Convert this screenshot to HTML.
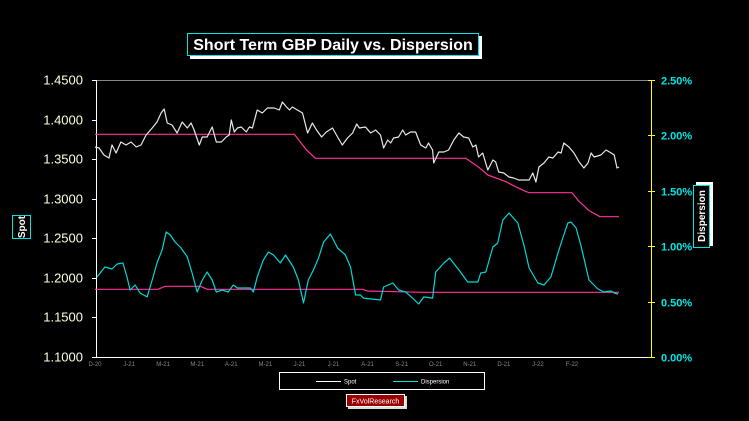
<!DOCTYPE html>
<html><head><meta charset="utf-8"><style>
body{margin:0;background:#000;width:749px;height:421px;overflow:hidden;font-family:"Liberation Sans",Arial,sans-serif}
</style></head><body>
<svg id="chart" width="749" height="421" xmlns="http://www.w3.org/2000/svg" style="position:absolute;left:0;top:0">
<rect width="749" height="421" fill="#000"/>
<g>
<rect x="190" y="36" width="292" height="23" fill="#fff"/>
<rect x="187.5" y="33.5" width="291" height="22" fill="#000" stroke="#00e5e5"/>
<text x="333" y="50" fill="#fff" font-size="16" font-weight="bold" text-anchor="middle">Short Term GBP Daily vs. Dispersion</text>
</g>
<g>
<rect x="12.5" y="215.5" width="18" height="23" fill="#000" stroke="#00e5e5"/>
<text transform="translate(25,227) rotate(-90)" fill="#fff" font-size="10" font-weight="bold" text-anchor="middle">Spot</text>
</g>
<g>
<rect x="696" y="182" width="17" height="64" fill="#fff"/>
<rect x="693.5" y="185.5" width="16" height="62" fill="#000" stroke="#00e5e5"/>
<text transform="translate(705,216) rotate(-90)" fill="#fff" font-size="10" font-weight="bold" text-anchor="middle">Dispersion</text>
</g>
<g id="axes"></g>
<g id="series"></g>
<g>
<rect x="279.5" y="372.5" width="205" height="17" fill="#000" stroke="#fff"/>
<line x1="316" y1="381.5" x2="341" y2="381.5" stroke="#fff"/>
<text x="344" y="383.5" fill="#fff" font-size="6">Spot</text>
<line x1="393" y1="381.5" x2="418" y2="381.5" stroke="#00e5e5"/>
<text x="421" y="383.5" fill="#fff" font-size="6">Dispersion</text>
</g>
<g>
<rect x="348" y="396" width="59" height="13" fill="#ddd"/>
<rect x="346.5" y="394.5" width="58" height="12" fill="#990000" stroke="#fff"/>
<text x="375.5" y="403.5" fill="#fff" font-size="7" text-anchor="middle">FxVolResearch</text>
</g>
</svg>
<script>
const xLabels=["D-20","J-21","M-21","M-21","A-21","M-21","J-21","J-21","A-21","S-21","O-21","N-21","D-21","J-22","F-22"];
const leftTicks=[1.45,1.40,1.35,1.30,1.25,1.20,1.15,1.10];
const rightTicks=[0,0.5,1.0,1.5,2.0,2.5];
const spotT=[0,0.12,0.26,0.41,0.50,0.62,0.76,0.91,1.06,1.21,1.35,1.50,1.68,1.82,1.94,2.03,2.12,2.26,2.41,2.56,2.71,2.82,2.91,3.06,3.15,3.29,3.44,3.56,3.71,3.85,3.94,4.00,4.09,4.18,4.29,4.44,4.53,4.62,4.76,4.91,5.06,5.26,5.41,5.50,5.62,5.71,5.79,5.94,6.09,6.24,6.38,6.50,6.65,6.79,6.97,7.12,7.26,7.41,7.56,7.68,7.76,7.94,8.09,8.24,8.38,8.47,8.59,8.68,8.76,8.91,9.03,9.12,9.26,9.41,9.56,9.71,9.79,9.91,9.94,10.09,10.24,10.38,10.53,10.68,10.82,10.97,11.09,11.18,11.26,11.38,11.53,11.68,11.76,11.85,12.00,12.15,12.29,12.44,12.59,12.74,12.85,12.94,13.03,13.18,13.32,13.44,13.59,13.68,13.76,13.91,14.06,14.21,14.35,14.47,14.56,14.65,14.85,15.00,15.15,15.24,15.32,15.38];
const spotV=[1.3653,1.3641,1.3552,1.3515,1.3679,1.3578,1.3717,1.3679,1.3717,1.3653,1.3679,1.3805,1.3894,1.3969,1.4083,1.4134,1.3957,1.3931,1.3830,1.3969,1.3894,1.3957,1.3868,1.3679,1.3780,1.3780,1.3906,1.3717,1.3717,1.3780,1.3805,1.3995,1.3843,1.3894,1.3906,1.3843,1.3906,1.3894,1.4121,1.4083,1.4146,1.4146,1.4121,1.4222,1.4159,1.4121,1.4159,1.4121,1.4083,1.3830,1.3957,1.3868,1.3780,1.3843,1.3894,1.3780,1.3679,1.3767,1.3830,1.3944,1.3894,1.3906,1.3830,1.3868,1.3805,1.3641,1.3742,1.3704,1.3767,1.3780,1.3868,1.3805,1.3843,1.3843,1.3679,1.3641,1.3704,1.3616,1.3451,1.3590,1.3590,1.3616,1.3742,1.3830,1.3780,1.3767,1.3653,1.3679,1.3527,1.3578,1.3363,1.3489,1.3464,1.3338,1.3325,1.3274,1.3262,1.3237,1.3237,1.3237,1.3325,1.3211,1.3401,1.3451,1.3527,1.3515,1.3590,1.3578,1.3704,1.3653,1.3578,1.3464,1.3388,1.3451,1.3578,1.3527,1.3552,1.3616,1.3578,1.3552,1.3388,1.3401];
const meanSpotT=[0,5.85,6.2,6.47,10.88,11.26,11.53,12.06,12.35,12.65,12.74,14.0,14.2,14.5,14.82,15.38];
const meanSpotV=[1.3814,1.3814,1.362,1.3511,1.3511,1.34,1.33,1.3215,1.315,1.309,1.3076,1.3076,1.297,1.285,1.2773,1.2773];
const dispT=[0.06,0.29,0.50,0.65,0.82,0.94,1.03,1.18,1.32,1.53,1.68,1.82,1.97,2.09,2.21,2.35,2.50,2.71,2.85,3.00,3.15,3.29,3.44,3.56,3.74,3.91,4.06,4.18,4.56,4.65,4.76,4.94,5.09,5.24,5.44,5.59,5.82,5.97,6.12,6.26,6.41,6.56,6.71,6.91,7.12,7.35,7.50,7.65,7.79,7.88,8.38,8.47,8.74,8.91,9.12,9.32,9.50,9.65,9.91,10.00,10.24,10.41,10.68,10.94,11.24,11.32,11.47,11.68,11.82,11.97,12.15,12.41,12.59,12.74,13.00,13.18,13.38,13.59,13.74,13.88,13.97,14.12,14.26,14.50,14.76,14.94,15.15,15.24,15.35];
const dispV=[0.722,0.812,0.794,0.839,0.848,0.722,0.605,0.650,0.578,0.542,0.695,0.848,0.966,1.128,1.101,1.038,0.993,0.903,0.758,0.587,0.695,0.767,0.695,0.587,0.605,0.587,0.650,0.623,0.623,0.587,0.722,0.875,0.948,0.921,0.848,0.921,0.812,0.695,0.487,0.695,0.785,0.893,1.038,1.110,0.984,0.921,0.812,0.560,0.560,0.532,0.514,0.632,0.668,0.605,0.587,0.532,0.478,0.542,0.532,0.767,0.848,0.893,0.785,0.677,0.677,0.758,0.767,0.993,1.029,1.236,1.300,1.209,1.011,0.803,0.668,0.650,0.722,0.939,1.083,1.209,1.218,1.164,1.011,0.695,0.614,0.587,0.596,0.578,0.569];
const meanDispT=[0,1.85,2.06,3.09,3.3,7.85,8.0,9.6,15.38];
const meanDispV=[0.611,0.611,0.638,0.638,0.611,0.611,0.596,0.584,0.584];

const NS="http://www.w3.org/2000/svg";
const L=96.5,R=651.5,T=80,B=357;
const xS=t=>95+t*34.07;
const yL=v=>T+(1.45-v)/0.35*(B-T);
const yR=v=>B-v/2.5*(B-T);
function mk(tag,attrs,parent){const e=document.createElementNS(NS,tag);for(const k in attrs)e.setAttribute(k,attrs[k]);parent.appendChild(e);return e;}
const axes=document.getElementById('axes');
let g=mk('line',{x1:L,y1:T+0.5,x2:R,y2:T+0.5,stroke:'#888'},axes);


g=mk('line',{x1:L,y1:T,x2:L,y2:B,stroke:'#fff'},axes);


g=mk('line',{x1:R,y1:T,x2:R,y2:B,stroke:'#ffff00'},axes);


g=mk('line',{x1:92,y1:B+0.5,x2:R,y2:B+0.5,stroke:'#fff'},axes);


leftTicks.forEach(v=>{const y=Math.round(yL(v))+0.5;
 mk('line',{x1:92,y1:y,x2:L,y2:y,stroke:'#fff'},axes);
 const t=mk('text',{x:83,y:y+4,fill:'#ffffe0','font-size':13,'text-anchor':'end'},axes);t.textContent=v.toFixed(4);
 
 
});
rightTicks.forEach(v=>{const y=Math.round(yR(v))+0.5;
 mk('line',{x1:648,y1:y,x2:655,y2:y,stroke:'#ffff00'},axes);
 const t=mk('text',{x:661,y:y+4,fill:'#00e5e5','font-size':11,'font-weight':'bold'},axes);t.textContent=v.toFixed(2)+'%';
 
 
});
xLabels.forEach((s,i)=>{
 const t=mk('text',{x:xS(i),y:366,fill:'#888','font-size':6,'text-anchor':'middle'},axes);t.textContent=s;
 
 
});
const ser=document.getElementById('series');
function line(ts,vs,ys,color,name){
 const d=ts.map((t,i)=>(i?'L':'M')+xS(t).toFixed(1)+','+ys(vs[i]).toFixed(1)).join('');
 const p=mk('path',{d:d,fill:'none',stroke:color,'stroke-width':1.2,'stroke-linejoin':'round'},ser);
 
 
}
line(meanSpotT,meanSpotV,yL,'#ff3399','spot-mean-line');
line(meanDispT,meanDispV,yR,'#ff3399','dispersion-mean-line');
line(spotT,spotV,yL,'#e8e8e8','spot-line');
line(dispT,dispV,yR,'#00d8d8','dispersion-line');
</script>
</body></html>
